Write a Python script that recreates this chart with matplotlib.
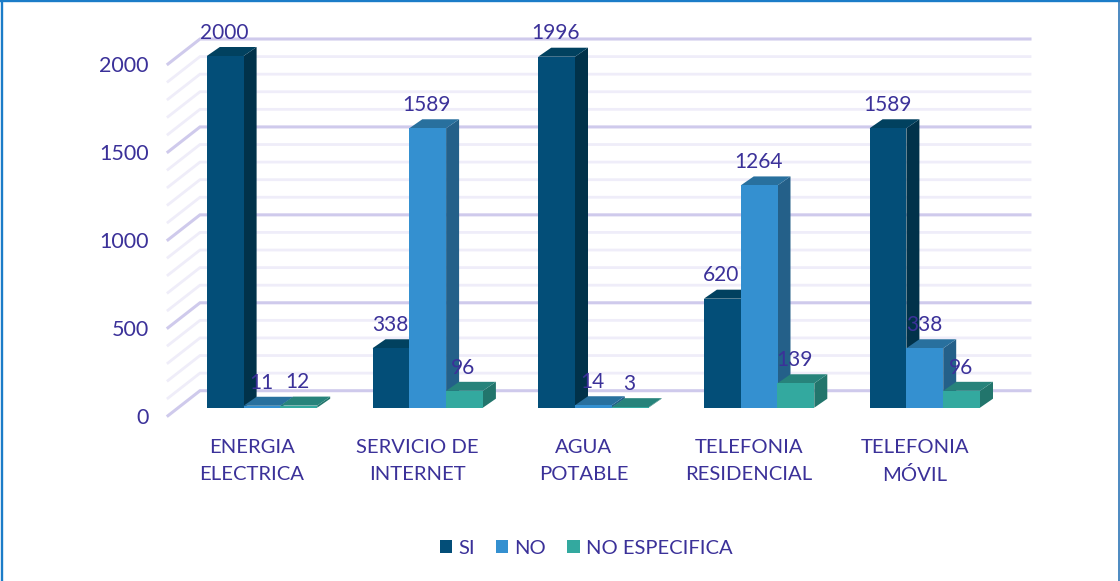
import matplotlib
matplotlib.use("Agg")
import matplotlib.pyplot as plt
from matplotlib.patches import Polygon, Rectangle
from matplotlib.transforms import Affine2D, IdentityTransform

categories = ["ENERGIA\nELECTRICA", "SERVICIO DE\nINTERNET", "AGUA\nPOTABLE",
              "TELEFONIA\nRESIDENCIAL", "TELEFONIA\nMÓVIL"]
series_names = ["SI", "NO", "NO ESPECIFICA"]
si = [2000, 338, 1996, 620, 1589]
no = [11, 1589, 14, 1264, 338]
no_esp = [12, 96, 3, 139, 96]
y_ticks = [0, 500, 1000, 1500, 2000]
minor_ticks = [100, 200, 300, 400, 600, 700, 800, 900, 1100, 1200, 1300, 1400,
               1600, 1700, 1800, 1900]

TEXT = "#3B3199"
FRONT = ["#034E78", "#3490D0", "#33A99F"]
SIDE = ["#01324A", "#246089", "#22756C"]
TOP = ["#01415F", "#28709E", "#27837B"]
FONT = "Lato"

W, H = 1120, 581
fig = plt.figure(figsize=(W / 100, H / 100), dpi=100, facecolor="white")
ax_l, ax_r, ax_t, ax_b = 168, 1030, 64, 415.7
ax = fig.add_axes([ax_l / W, 1 - ax_b / H, (ax_r - ax_l) / W, (ax_b - ax_t) / H])
step = 165.7
c0 = 252
ax.set_xlim((ax_l - c0) / step, (ax_r - c0) / step)
ax.set_ylim(0, 2000)
ax.patch.set_alpha(0)
for s in ax.spines.values():
    s.set_visible(False)
ax.set_yticks(y_ticks)
ax.set_yticklabels([str(v) for v in y_ticks], family=FONT, fontsize=15.5, color=TEXT)
ax.set_xticks(range(len(categories)))
ax.set_xticklabels(categories, family=FONT, fontsize=14.6, color=TEXT, linespacing=1.72)
ax.tick_params(axis="both", length=0)
ax.tick_params(axis="y", pad=14)
ax.tick_params(axis="x", pad=16.5)

identity = IdentityTransform()


def disp(x, v):
    return ax.transData.transform((x, v))


# side + back wall gridlines
wall_dx, wall_dy = 32, 25
x_left = ax.get_xlim()[0]
for values, color, lw in [(minor_ticks, "#EFEDF9", 2.0), (y_ticks, "#CFCAEC", 2.2)]:
    for v in values:
        p = disp(x_left, v)
        ax.plot([p[0], p[0] + wall_dx, ax_r], [p[1], p[1] + wall_dy, p[1] + wall_dy],
                transform=identity, color=color, lw=lw, zorder=1, clip_on=False,
                solid_joinstyle="miter")

# bars: front plane is offset from the axes plane
bar_w = 36.8 / step
group_dx, group_dy = 10, 8
depth_dx, depth_dy = 13, 9
front_off = Affine2D().translate(group_dx, group_dy)
z = 2
for k, values in enumerate([si, no, no_esp]):
    for i, v in enumerate(values):
        x0 = i + (k - 1.5) * bar_w
        x1 = x0 + bar_w
        ax.bar(x0, v, bar_w, align="edge", color=FRONT[k], edgecolor="none",
               transform=ax.transData + front_off, zorder=z + k * 3 + i * 10 + 2,
               clip_on=False)
        a = disp(x0, v) + (group_dx, group_dy)
        b = disp(x1, v) + (group_dx, group_dy)
        c = disp(x1, 0) + (group_dx, group_dy)
        d = (depth_dx, depth_dy)
        ax.add_patch(Polygon([a, b, b + d, a + d], closed=True, transform=identity,
                             facecolor=TOP[k], edgecolor="none",
                             zorder=z + k * 3 + i * 10 + 1, clip_on=False))
        ax.add_patch(Polygon([b, c, c + d, b + d], closed=True, transform=identity,
                             facecolor=SIDE[k], edgecolor="none",
                             zorder=z + k * 3 + i * 10, clip_on=False))
        ax.annotate(str(v), (x0 + bar_w / 2, v), xycoords="data",
                    xytext=(9 * 0.72, 22.5), textcoords="offset points",
                    ha="center", va="center", family=FONT, fontsize=15, color=TEXT,
                    zorder=100, annotation_clip=False)

# legend
handles = [Rectangle((0, 0), 1, 1, facecolor=c, edgecolor="none") for c in FRONT]
fig.legend(handles, series_names, loc="center", bbox_to_anchor=(586 / W, 1 - 548 / H),
           ncol=3, frameon=False, handlelength=0.62, handleheight=0.62, handletextpad=0.3,
           columnspacing=1.05, prop={"family": FONT, "size": 14.5}, labelcolor=TEXT)

# frame: top and left edges, right edge, no visible bottom edge
frame_lines = [([1.5, 1.5], [0, H], "#1B7CC8", 1.7),
               ([0, W], [H - 1, H - 1], "#1B7CC8", 1.7),
               ([W - 0.8, W - 0.8], [0, H], "#2E75B6", 1.2)]
for xs, ys, col, lw in frame_lines:
    fig.add_artist(plt.Line2D(xs, ys, transform=identity, color=col, lw=lw))

fig.savefig("out.png", dpi=100)
